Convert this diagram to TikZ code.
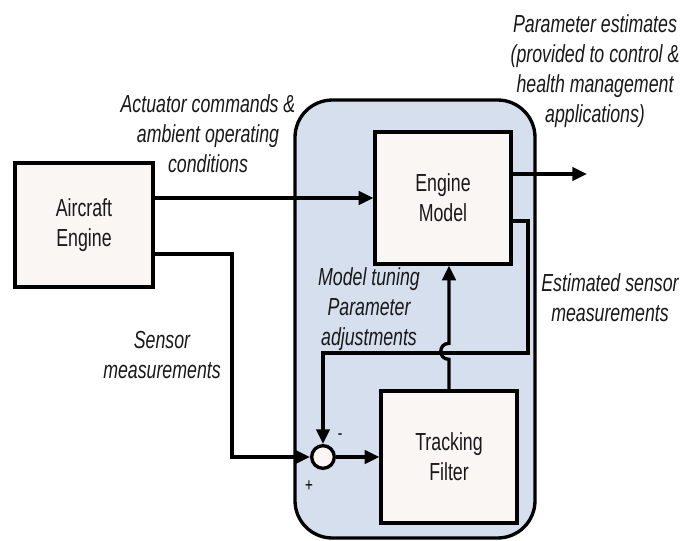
\documentclass[tikz,border=0pt]{standalone}
\usepackage{fontspec}
\setmainfont{Liberation Sans}[FakeStretch=0.72]
\usetikzlibrary{calc,positioning,arrows.meta}
\definecolor{panelblue}{RGB}{214,223,237}
\definecolor{boxwhite}{RGB}{249,246,243}

\begin{document}
\begin{tikzpicture}[x=0.75pt,y=-0.75pt,
  block/.style={draw,line width=2.5pt,fill=boxwhite,minimum width=102pt,minimum height=99pt,align=center,text=black!90,font=\fontsize{18.5}{22.5}\selectfont},
  lbl/.style={align=center,text=black!90,font=\fontsize{18.5}{22.5}\selectfont\itshape},
  arr/.style={line width=2.5pt,-{Triangle[length=11pt,width=10pt]}},
  wire/.style={line width=2.5pt}]
\useasboundingbox (0,0) rectangle (682,540);

% estimator panel
\draw[line width=2.5pt,fill=panelblue,rounded corners=28pt] (295,100) rectangle (535,538);

% blocks
\node[block,minimum width=103.5pt,minimum height=93pt] (plant) at (84,225) {Aircraft\\Engine};
\node[block] (model) at (443,198) {Engine\\Model};
\node[block] (filter) at (449,457) {Tracking\\Filter};
\node[circle,draw,line width=2.5pt,fill=boxwhite,minimum size=17pt,inner sep=0pt] (sum) at (323,457) {};

% helper points
\coordinate (sbend) at (232,457);
\coordinate (ebend) at (528,353);
\coordinate (out) at (587,174);

% connectors
\draw[arr] (plant.east |- model.west) -- (model.west);
\draw[arr] ([yshift=-21.75pt]plant.east) -| (sbend) -- (sum.west);
\draw[arr] (sum.east) -- (filter.west);
\draw[arr] ([yshift=18pt]model.east) -- (out);
\draw[arr] ([yshift=-17.25pt]model.east) -| (ebend) -| (sum.north);
\draw[arr] (filter.north) -- ++(0,-30) .. controls ++(-11,0) and ++(-11,0) .. ++(0,-16) -- (filter.north |- model.south);

% labels
\node[lbl] (act) at (208,134) {Actuator commands \&\\ambient operating\\conditions};
\node[lbl] (pest) at (595,71) {Parameter estimates\\(provided to control \&\\health management\\applications)};
\node[lbl] (est) at (610,298) {Estimated sensor\\measurements};
\node[lbl] (tune) at (369,309) {Model tuning\\Parameter\\adjustments};
\node[lbl] (sens) at (162,355) {Sensor\\measurements};
\node[font=\fontsize{14}{14}\selectfont] (minus) at (340,437) {-};
\node[font=\fontsize{14}{14}\selectfont] (plus) at (309,486) {+};
\end{tikzpicture}
\end{document}
